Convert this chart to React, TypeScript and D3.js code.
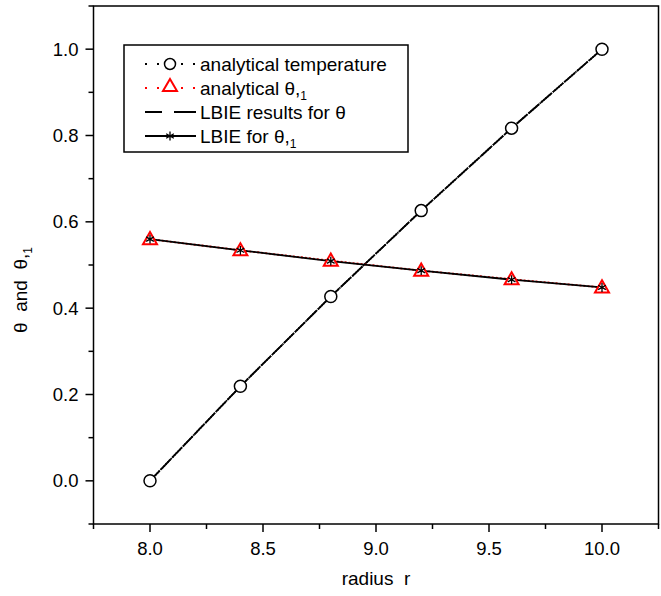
import React, { useEffect, useRef } from "react";
import * as d3 from "d3";

// radius values (shared by every series)
const radius = [8.0, 8.4, 8.8, 9.2, 9.6, 10.0];
// analytical temperature theta
const thetaAnalytical = [0.0, 0.219, 0.427, 0.626, 0.817, 1.0];
// LBIE theta
const thetaLBIE = [0.0, 0.219, 0.427, 0.626, 0.817, 1.0];
// analytical theta,1
const dthetaAnalytical = [0.560, 0.534, 0.510, 0.487, 0.467, 0.448];
// LBIE theta,1
const dthetaLBIE = [0.560, 0.534, 0.509, 0.487, 0.466, 0.448];

const xTicks = [8.0, 8.5, 9.0, 9.5, 10.0];
const yTicks = [0.0, 0.2, 0.4, 0.6, 0.8, 1.0];

const W = 661, H = 596;
const margin = { top: 6, right: 2.5, bottom: 72, left: 93.5 };
const FONT = "'Liberation Sans', Arial, Helvetica, sans-serif";

export default function App() {
  const ref = useRef<SVGSVGElement>(null);

  useEffect(() => {
    const svg = d3.select(ref.current);
    svg.selectAll("*").remove();

    const width = W - margin.left - margin.right;
    const height = H - margin.top - margin.bottom;

    const x = d3.scaleLinear().domain([7.75, 10.25]).range([0, width]);
    const y = d3.scaleLinear().domain([-0.1, 1.1]).range([height, 0]);

    const g = svg.append("g").attr("transform", `translate(${margin.left},${margin.top})`);

    // frame
    g.append("rect")
      .attr("width", width).attr("height", height)
      .attr("fill", "none").attr("stroke", "#000").attr("stroke-width", 1.5);

    // x axis, major + minor
    const xMinor = d3.range(7.75, 10.26, 0.25).filter(v => !xTicks.some(t => Math.abs(t - v) < 1e-6));
    const xAxis = g.append("g").attr("transform", `translate(0,${height})`);
    xAxis.selectAll("line.maj").data(xTicks).join("line")
      .attr("x1", d => x(d)).attr("x2", d => x(d)).attr("y1", 0).attr("y2", 8)
      .attr("stroke", "#000").attr("stroke-width", 1.5);
    xAxis.selectAll("line.min").data(xMinor).join("line")
      .attr("x1", d => x(d)).attr("x2", d => x(d)).attr("y1", 0).attr("y2", 5)
      .attr("stroke", "#000").attr("stroke-width", 1.5);
    xAxis.selectAll("text").data(xTicks).join("text")
      .attr("x", d => x(d)).attr("y", 31)
      .attr("text-anchor", "middle")
      .style("font", `18.5px ${FONT}`)
      .text(d => d3.format(".1f")(d));

    // y axis
    const yMinor = d3.range(-0.1, 1.11, 0.1).filter(v => !yTicks.some(t => Math.abs(t - v) < 1e-6));
    const yAxis = g.append("g");
    yAxis.selectAll("line.maj").data(yTicks).join("line")
      .attr("x1", 0).attr("x2", -8).attr("y1", d => y(d)).attr("y2", d => y(d))
      .attr("stroke", "#000").attr("stroke-width", 1.5);
    yAxis.selectAll("line.min").data(yMinor).join("line")
      .attr("x1", 0).attr("x2", -5).attr("y1", d => y(d)).attr("y2", d => y(d))
      .attr("stroke", "#000").attr("stroke-width", 1.5);
    yAxis.selectAll("text").data(yTicks).join("text")
      .attr("x", -15).attr("y", d => y(d)).attr("dy", "0.35em")
      .attr("text-anchor", "end")
      .style("font", `18.5px ${FONT}`)
      .text(d => d3.format(".1f")(d));

    // axis titles
    svg.append("text")
      .attr("x", margin.left + width / 2).attr("y", 585)
      .attr("text-anchor", "middle")
      .style("font", `19px ${FONT}`)
      .attr("xml:space", "preserve")
      .text("radius  r");

    const yt = svg.append("text")
      .attr("transform", "translate(27,290)rotate(-90)")
      .attr("text-anchor", "middle")
      .attr("xml:space", "preserve")
      .style("font", `19px ${FONT}`);
    yt.append("tspan").text("θ  and  θ,");
    yt.append("tspan").attr("dy", 5).style("font-size", "12px").text("1");

    const line = (vals: number[]) =>
      d3.line<number>().x((_, i) => x(radius[i])).y(d => y(d))(vals);

    // theta lines: LBIE dashed, analytical dotted (overlap)
    g.append("path").attr("d", line(thetaLBIE)).attr("fill", "none")
      .attr("stroke", "#000").attr("stroke-width", 1.8).attr("stroke-dasharray", "14,2");
    g.append("path").attr("d", line(thetaAnalytical)).attr("fill", "none")
      .attr("stroke", "#000").attr("stroke-width", 1.8).attr("stroke-dasharray", "1.5,1");

    // theta,1 lines
    g.append("path").attr("d", line(dthetaAnalytical)).attr("fill", "none")
      .attr("stroke", "red").attr("stroke-width", 1.8).attr("stroke-dasharray", "2,2");
    g.append("path").attr("d", line(dthetaLBIE)).attr("fill", "none")
      .attr("stroke", "#000").attr("stroke-width", 1.8);

    // markers
    g.selectAll("circle.t").data(thetaAnalytical).join("circle")
      .attr("cx", (_, i) => x(radius[i])).attr("cy", d => y(d)).attr("r", 6)
      .attr("fill", "#fff").attr("stroke", "#000").attr("stroke-width", 1.5);

    const tri = d3.symbol(d3.symbolTriangle, 85);
    g.selectAll("path.tri").data(dthetaAnalytical).join("path")
      .attr("class", "tri")
      .attr("d", tri)
      .attr("transform", (d, i) => `translate(${x(radius[i])},${y(d) + 1})`)
      .attr("fill", "#fff").attr("stroke", "red").attr("stroke-width", 2);

    const ast = d3.symbol(d3.symbolAsterisk, 55);
    g.selectAll("path.ast").data(dthetaLBIE).join("path")
      .attr("class", "ast")
      .attr("d", ast)
      .attr("transform", (d, i) => `translate(${x(radius[i])},${y(d)})`)
      .attr("fill", "none").attr("stroke", "#000").attr("stroke-width", 1.3);

    // legend
    const lg = svg.append("g");
    lg.append("rect").attr("x", 124).attr("y", 45).attr("width", 284).attr("height", 107)
      .attr("fill", "#fff").attr("stroke", "#000").attr("stroke-width", 1.5);
    const rows = [64, 88, 112, 136];
    const sx0 = 145, sx1 = 196, sxm = 170, tx = 200;

    // row 1
    lg.append("line").attr("x1", sx0).attr("x2", sx1).attr("y1", rows[0]).attr("y2", rows[0])
      .attr("stroke", "#000").attr("stroke-width", 1.8).attr("stroke-dasharray", "2,10");
    lg.append("circle").attr("cx", sxm).attr("cy", rows[0]).attr("r", 5.5)
      .attr("fill", "#fff").attr("stroke", "#000").attr("stroke-width", 1.5);
    // row 2
    lg.append("line").attr("x1", sx0).attr("x2", sx1).attr("y1", rows[1]).attr("y2", rows[1])
      .attr("stroke", "red").attr("stroke-width", 1.8).attr("stroke-dasharray", "2,10");
    lg.append("path").attr("d", tri).attr("transform", `translate(${sxm},${rows[1] - 1})`)
      .attr("fill", "#fff").attr("stroke", "red").attr("stroke-width", 2);
    // row 3
    lg.append("line").attr("x1", sx0).attr("x2", sx1).attr("y1", rows[2]).attr("y2", rows[2])
      .attr("stroke", "#000").attr("stroke-width", 1.8).attr("stroke-dasharray", "17,12,22");
    // row 4
    lg.append("line").attr("x1", sx0).attr("x2", sx1).attr("y1", rows[3]).attr("y2", rows[3])
      .attr("stroke", "#000").attr("stroke-width", 1.8);
    lg.append("path").attr("d", ast).attr("transform", `translate(${sxm},${rows[3]})`)
      .attr("fill", "none").attr("stroke", "#000").attr("stroke-width", 1.3);

    const addText = (row: number, main: string, sub?: string) => {
      const t = lg.append("text").attr("x", tx).attr("y", rows[row]).attr("dy", "0.35em")
        .style("font", `19px ${FONT}`);
      t.append("tspan").text(main);
      if (sub) t.append("tspan").attr("dy", 5).style("font-size", "12px").text(sub);
    };
    addText(0, "analytical temperature");
    addText(1, "analytical θ,", "1");
    addText(2, "LBIE results for θ");
    addText(3, "LBIE for θ,", "1");
  }, []);

  return (
    <svg ref={ref} width={W} height={H}
      style={{ position: "absolute", left: 0, top: 0, background: "#fff" }} />
  );
}
